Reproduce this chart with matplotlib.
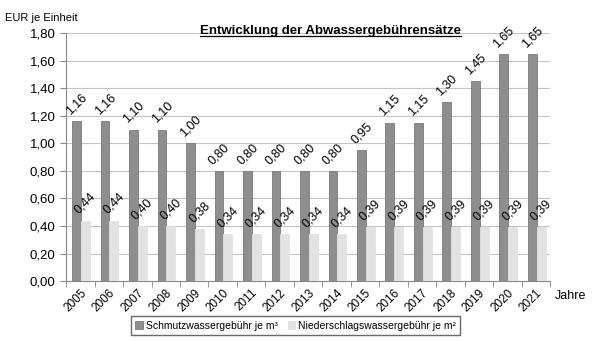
import matplotlib
matplotlib.use("Agg")
import matplotlib.pyplot as plt
import numpy as np

plt.rcParams['font.family'] = ['Liberation Sans', 'DejaVu Sans']

jahre = ['2005', '2006', '2007', '2008', '2009', '2010', '2011', '2012', '2013',
         '2014', '2015', '2016', '2017', '2018', '2019', '2020', '2021']
schmutzwasser = [1.16, 1.16, 1.10, 1.10, 1.00, 0.80, 0.80, 0.80, 0.80,
                 0.80, 0.95, 1.15, 1.15, 1.30, 1.45, 1.65, 1.65]
niederschlag = [0.44, 0.44, 0.40, 0.40, 0.38, 0.34, 0.34, 0.34, 0.34,
                0.34, 0.39, 0.39, 0.39, 0.39, 0.39, 0.39, 0.39]


def fmt(v):
    return f"{v:.2f}".replace('.', ',')


fig = plt.figure(figsize=(6.06, 3.42), dpi=100)
ax = fig.add_axes([0.109, 0.178, 0.799, 0.725])

x = np.arange(len(jahre))
w = 0.31
b1 = ax.bar(x - 0.13, schmutzwasser, w, color='#8e8e8e', edgecolor='#7a7a7a',
            linewidth=0.6, label='Schmutzwassergebühr je m³', zorder=3)
b2 = ax.bar(x + 0.18, niederschlag, w, color='#e2e2e2', edgecolor='#e2e2e2',
            linewidth=0.6, label='Niederschlagswassergebühr je m²', zorder=3)

for xi, v in zip(x - 0.13, schmutzwasser):
    ax.annotate(fmt(v), (xi, v), xytext=(0, 3), textcoords='offset points',
                ha='center', va='bottom', rotation=45, fontsize=9)
for xi, v in zip(x + 0.18, niederschlag):
    ax.annotate(fmt(v), (xi, v), xytext=(0, 3), textcoords='offset points',
                ha='center', va='bottom', rotation=45, fontsize=9)

ax.set_xlim(-0.5, len(jahre) - 0.5)
ax.set_ylim(0, 1.8)
ax.set_yticks(np.arange(0, 1.81, 0.2))
ax.set_yticklabels([fmt(v) for v in np.arange(0, 1.81, 0.2)], fontsize=9.5)
ax.yaxis.grid(True, color='#c4c4c4', linewidth=0.8, zorder=0)

# category labels centred, tick marks between the groups
ax.set_xticks(x)
ax.set_xticklabels(jahre, rotation=45, ha='right', rotation_mode='anchor', fontsize=8.5)
ax.tick_params(axis='x', length=0, pad=4)
ax.set_xticks(np.arange(-0.5, len(jahre)), minor=True)
ax.tick_params(axis='x', which='minor', length=4, color='#888888')
ax.tick_params(axis='y', length=4, color='#888888')

for s in ['top', 'right']:
    ax.spines[s].set_visible(False)
for s in ['left', 'bottom']:
    ax.spines[s].set_color('#888888')

fig.text(0.008, 0.94, 'EUR je Einheit', fontsize=8)
title = fig.text(0.545, 0.893, 'Entwicklung der Abwassergebührensätze', fontsize=9.5,
                 fontweight='bold', ha='center', va='bottom')
# underline the heading across its own width
fig.canvas.draw()
bb = title.get_window_extent().transformed(fig.transFigure.inverted())
fig.add_artist(plt.Line2D([bb.x0, bb.x1], [bb.y0 + 0.003, bb.y0 + 0.003],
                          color='black', linewidth=0.9))
fig.text(0.915, 0.135, 'Jahre', fontsize=9, va='center')

fig.legend(handles=[b1, b2], loc='center', bbox_to_anchor=(0.488, 0.048), ncol=2,
           fontsize=7.5, frameon=True, fancybox=False, edgecolor='#444444',
           handlelength=0.7, handleheight=0.7, handletextpad=0.3, columnspacing=1.0,
           borderpad=0.4)

fig.savefig('out.png', dpi=100)
